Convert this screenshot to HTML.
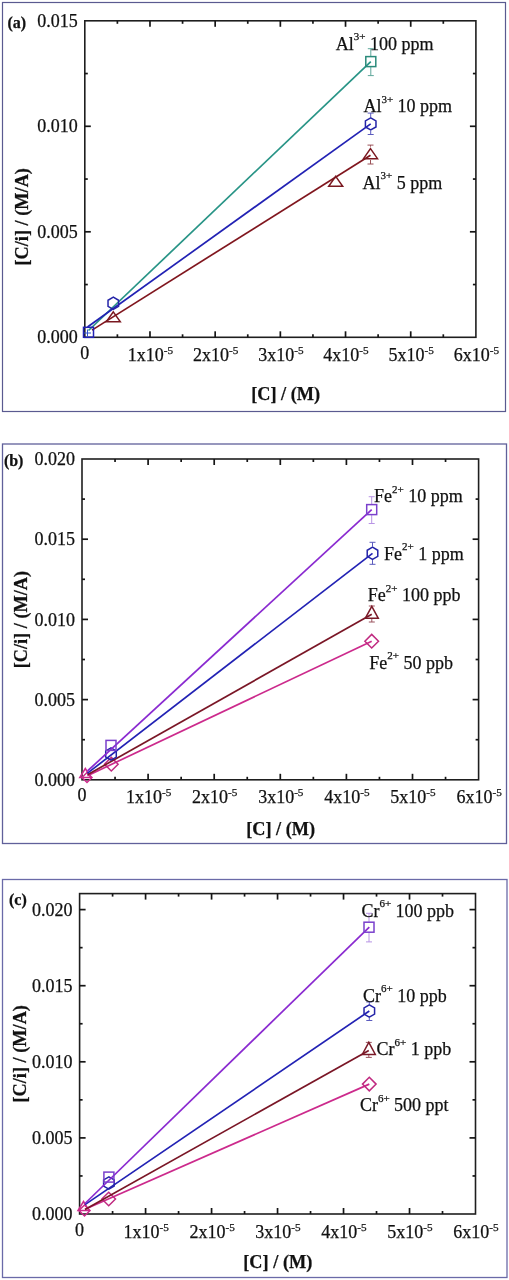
<!DOCTYPE html><html><head><meta charset="utf-8"><style>html,body{margin:0;padding:0;background:#fff;}svg{display:block;will-change:transform}text{font-family:"Liberation Serif", serif;fill:#111;stroke:#111;stroke-width:0.25px}</style></head><body>
<svg width="509" height="1280" viewBox="0 0 509 1280">
<rect x="2.5" y="2.5" width="503.0" height="409.0" fill="none" stroke="#5a5a90" stroke-width="1.2"/>
<rect x="84.8" y="20.8" width="391.09999999999997" height="316.5" fill="none" stroke="#1e1e1e" stroke-width="1.6"/>
<line x1="117.39" y1="337.3" x2="117.39" y2="334.3" stroke="#151515" stroke-width="1.7"/>
<line x1="117.39" y1="20.8" x2="117.39" y2="23.8" stroke="#151515" stroke-width="1.7"/>
<line x1="149.98" y1="337.3" x2="149.98" y2="331.3" stroke="#151515" stroke-width="1.7"/>
<line x1="149.98" y1="20.8" x2="149.98" y2="26.8" stroke="#151515" stroke-width="1.7"/>
<line x1="182.57" y1="337.3" x2="182.57" y2="334.3" stroke="#151515" stroke-width="1.7"/>
<line x1="182.57" y1="20.8" x2="182.57" y2="23.8" stroke="#151515" stroke-width="1.7"/>
<line x1="215.17" y1="337.3" x2="215.17" y2="331.3" stroke="#151515" stroke-width="1.7"/>
<line x1="215.17" y1="20.8" x2="215.17" y2="26.8" stroke="#151515" stroke-width="1.7"/>
<line x1="247.76" y1="337.3" x2="247.76" y2="334.3" stroke="#151515" stroke-width="1.7"/>
<line x1="247.76" y1="20.8" x2="247.76" y2="23.8" stroke="#151515" stroke-width="1.7"/>
<line x1="280.35" y1="337.3" x2="280.35" y2="331.3" stroke="#151515" stroke-width="1.7"/>
<line x1="280.35" y1="20.8" x2="280.35" y2="26.8" stroke="#151515" stroke-width="1.7"/>
<line x1="312.94" y1="337.3" x2="312.94" y2="334.3" stroke="#151515" stroke-width="1.7"/>
<line x1="312.94" y1="20.8" x2="312.94" y2="23.8" stroke="#151515" stroke-width="1.7"/>
<line x1="345.53" y1="337.3" x2="345.53" y2="331.3" stroke="#151515" stroke-width="1.7"/>
<line x1="345.53" y1="20.8" x2="345.53" y2="26.8" stroke="#151515" stroke-width="1.7"/>
<line x1="378.12" y1="337.3" x2="378.12" y2="334.3" stroke="#151515" stroke-width="1.7"/>
<line x1="378.12" y1="20.8" x2="378.12" y2="23.8" stroke="#151515" stroke-width="1.7"/>
<line x1="410.72" y1="337.3" x2="410.72" y2="331.3" stroke="#151515" stroke-width="1.7"/>
<line x1="410.72" y1="20.8" x2="410.72" y2="26.8" stroke="#151515" stroke-width="1.7"/>
<line x1="443.31" y1="337.3" x2="443.31" y2="334.3" stroke="#151515" stroke-width="1.7"/>
<line x1="443.31" y1="20.8" x2="443.31" y2="23.8" stroke="#151515" stroke-width="1.7"/>
<line x1="84.8" y1="284.55" x2="87.8" y2="284.55" stroke="#151515" stroke-width="1.7"/>
<line x1="475.9" y1="284.55" x2="472.9" y2="284.55" stroke="#151515" stroke-width="1.7"/>
<line x1="84.8" y1="231.80" x2="90.8" y2="231.80" stroke="#151515" stroke-width="1.7"/>
<line x1="475.9" y1="231.80" x2="469.9" y2="231.80" stroke="#151515" stroke-width="1.7"/>
<line x1="84.8" y1="179.05" x2="87.8" y2="179.05" stroke="#151515" stroke-width="1.7"/>
<line x1="475.9" y1="179.05" x2="472.9" y2="179.05" stroke="#151515" stroke-width="1.7"/>
<line x1="84.8" y1="126.30" x2="90.8" y2="126.30" stroke="#151515" stroke-width="1.7"/>
<line x1="475.9" y1="126.30" x2="469.9" y2="126.30" stroke="#151515" stroke-width="1.7"/>
<line x1="84.8" y1="73.55" x2="87.8" y2="73.55" stroke="#151515" stroke-width="1.7"/>
<line x1="475.9" y1="73.55" x2="472.9" y2="73.55" stroke="#151515" stroke-width="1.7"/>
<text x="77.8" y="343.4" text-anchor="end" font-size="18">0.000</text>
<text x="77.8" y="237.9" text-anchor="end" font-size="18">0.005</text>
<text x="77.8" y="132.4" text-anchor="end" font-size="18">0.010</text>
<text x="77.8" y="26.9" text-anchor="end" font-size="18">0.015</text>
<text x="84.8" y="358.5" text-anchor="middle" font-size="18">0</text>
<text x="150.5" y="360.8" text-anchor="middle" font-size="18">1x10<tspan font-size="11.2" dy="-7">-5</tspan></text>
<text x="215.7" y="360.8" text-anchor="middle" font-size="18">2x10<tspan font-size="11.2" dy="-7">-5</tspan></text>
<text x="280.9" y="360.8" text-anchor="middle" font-size="18">3x10<tspan font-size="11.2" dy="-7">-5</tspan></text>
<text x="346.0" y="360.8" text-anchor="middle" font-size="18">4x10<tspan font-size="11.2" dy="-7">-5</tspan></text>
<text x="411.2" y="360.8" text-anchor="middle" font-size="18">5x10<tspan font-size="11.2" dy="-7">-5</tspan></text>
<text x="476.4" y="360.8" text-anchor="middle" font-size="18">6x10<tspan font-size="11.2" dy="-7">-5</tspan></text>
<text x="285.7" y="400" text-anchor="middle" font-size="18.3" font-weight="bold">[C] / (M)</text>
<text transform="translate(28.3,216.8) rotate(-90)" text-anchor="middle" font-size="18.3" font-weight="bold">[C/i] / (M/A)</text>
<text x="7.5" y="27.8" font-size="16" font-weight="bold">(a)</text>
<polyline points="88.5,330.5 370.8,61.6" fill="none" stroke="#289486" stroke-width="1.7" stroke-linejoin="round"/>
<g stroke="#2a8a7a" stroke-width="1" opacity="0.75"><line x1="370.8" y1="48.70" x2="370.8" y2="56.10"/><line x1="367.8" y1="48.70" x2="373.8" y2="48.70"/></g>
<g stroke="#2a8a7a" stroke-width="1" opacity="0.75"><line x1="370.8" y1="75.60" x2="370.8" y2="67.10"/><line x1="367.8" y1="75.60" x2="373.8" y2="75.60"/></g>
<rect x="365.80" y="56.60" width="10" height="10" fill="none" stroke="#2a8a7a" stroke-width="1.5"/>
<text x="335.7" y="49.5" font-size="18">Al<tspan font-size="11" dy="-9.5">3+</tspan><tspan dy="9.5"> 100 ppm</tspan></text>
<polyline points="92,330.1 370.5,155.3" fill="none" stroke="#80161e" stroke-width="1.7" stroke-linejoin="round"/>
<polygon points="113.3,311.83 120.30,321.83 106.30,321.83" fill="none" stroke="#7a1820" stroke-width="1.5"/>
<polygon points="335.7,176.33 342.70,186.33 328.70,186.33" fill="none" stroke="#7a1820" stroke-width="1.5"/>
<g stroke="#7a1820" stroke-width="1" opacity="0.75"><line x1="370.5" y1="145.10" x2="370.5" y2="146.70"/><line x1="367.5" y1="145.10" x2="373.5" y2="145.10"/></g>
<g stroke="#7a1820" stroke-width="1" opacity="0.75"><line x1="370.5" y1="164.00" x2="370.5" y2="159.90"/><line x1="367.5" y1="164.00" x2="373.5" y2="164.00"/></g>
<polygon points="370.5,148.63 377.50,158.63 363.50,158.63" fill="none" stroke="#7a1820" stroke-width="1.5"/>
<text x="362.5" y="188.8" font-size="18">Al<tspan font-size="11" dy="-9.5">3+</tspan><tspan dy="9.5"> 5 ppm</tspan></text>
<polyline points="87.5,327 370.7,123.9" fill="none" stroke="#2222b4" stroke-width="1.7" stroke-linejoin="round"/>
<polygon points="113.30,297.20 108.02,300.25 108.02,306.35 113.30,309.40 118.58,306.35 118.58,300.25" fill="none" stroke="#2424a8" stroke-width="1.5"/>
<g stroke="#2424a8" stroke-width="1" opacity="0.75"><line x1="370.7" y1="113.10" x2="370.7" y2="117.10"/><line x1="367.7" y1="113.10" x2="373.7" y2="113.10"/></g>
<g stroke="#2424a8" stroke-width="1" opacity="0.75"><line x1="370.7" y1="134.50" x2="370.7" y2="130.70"/><line x1="367.7" y1="134.50" x2="373.7" y2="134.50"/></g>
<polygon points="370.70,117.80 365.42,120.85 365.42,126.95 370.70,130.00 375.98,126.95 375.98,120.85" fill="none" stroke="#2424a8" stroke-width="1.5"/>
<rect x="83.50" y="327.30" width="10" height="10" fill="none" stroke="#2222b4" stroke-width="1.5"/>
<path d="M84.0,333H91.0M87.5,329.5V336.5" stroke="#3050d0" stroke-width="1" fill="none"/>
<text x="363.4" y="112.4" font-size="18">Al<tspan font-size="11" dy="-9.5">3+</tspan><tspan dy="9.5"> 10 ppm</tspan></text>
<rect x="2.5" y="444" width="504.0" height="399.5" fill="none" stroke="#60609a" stroke-width="1.3"/>
<rect x="82" y="459" width="396.6" height="320.79999999999995" fill="none" stroke="#1e1e1e" stroke-width="1.6"/>
<line x1="115.05" y1="779.8" x2="115.05" y2="776.8" stroke="#151515" stroke-width="1.7"/>
<line x1="115.05" y1="459" x2="115.05" y2="462" stroke="#151515" stroke-width="1.7"/>
<line x1="148.10" y1="779.8" x2="148.10" y2="773.8" stroke="#151515" stroke-width="1.7"/>
<line x1="148.10" y1="459" x2="148.10" y2="465" stroke="#151515" stroke-width="1.7"/>
<line x1="181.15" y1="779.8" x2="181.15" y2="776.8" stroke="#151515" stroke-width="1.7"/>
<line x1="181.15" y1="459" x2="181.15" y2="462" stroke="#151515" stroke-width="1.7"/>
<line x1="214.20" y1="779.8" x2="214.20" y2="773.8" stroke="#151515" stroke-width="1.7"/>
<line x1="214.20" y1="459" x2="214.20" y2="465" stroke="#151515" stroke-width="1.7"/>
<line x1="247.25" y1="779.8" x2="247.25" y2="776.8" stroke="#151515" stroke-width="1.7"/>
<line x1="247.25" y1="459" x2="247.25" y2="462" stroke="#151515" stroke-width="1.7"/>
<line x1="280.30" y1="779.8" x2="280.30" y2="773.8" stroke="#151515" stroke-width="1.7"/>
<line x1="280.30" y1="459" x2="280.30" y2="465" stroke="#151515" stroke-width="1.7"/>
<line x1="313.35" y1="779.8" x2="313.35" y2="776.8" stroke="#151515" stroke-width="1.7"/>
<line x1="313.35" y1="459" x2="313.35" y2="462" stroke="#151515" stroke-width="1.7"/>
<line x1="346.40" y1="779.8" x2="346.40" y2="773.8" stroke="#151515" stroke-width="1.7"/>
<line x1="346.40" y1="459" x2="346.40" y2="465" stroke="#151515" stroke-width="1.7"/>
<line x1="379.45" y1="779.8" x2="379.45" y2="776.8" stroke="#151515" stroke-width="1.7"/>
<line x1="379.45" y1="459" x2="379.45" y2="462" stroke="#151515" stroke-width="1.7"/>
<line x1="412.50" y1="779.8" x2="412.50" y2="773.8" stroke="#151515" stroke-width="1.7"/>
<line x1="412.50" y1="459" x2="412.50" y2="465" stroke="#151515" stroke-width="1.7"/>
<line x1="445.55" y1="779.8" x2="445.55" y2="776.8" stroke="#151515" stroke-width="1.7"/>
<line x1="445.55" y1="459" x2="445.55" y2="462" stroke="#151515" stroke-width="1.7"/>
<line x1="82" y1="739.70" x2="85" y2="739.70" stroke="#151515" stroke-width="1.7"/>
<line x1="478.6" y1="739.70" x2="475.6" y2="739.70" stroke="#151515" stroke-width="1.7"/>
<line x1="82" y1="699.60" x2="88" y2="699.60" stroke="#151515" stroke-width="1.7"/>
<line x1="478.6" y1="699.60" x2="472.6" y2="699.60" stroke="#151515" stroke-width="1.7"/>
<line x1="82" y1="659.50" x2="85" y2="659.50" stroke="#151515" stroke-width="1.7"/>
<line x1="478.6" y1="659.50" x2="475.6" y2="659.50" stroke="#151515" stroke-width="1.7"/>
<line x1="82" y1="619.40" x2="88" y2="619.40" stroke="#151515" stroke-width="1.7"/>
<line x1="478.6" y1="619.40" x2="472.6" y2="619.40" stroke="#151515" stroke-width="1.7"/>
<line x1="82" y1="579.30" x2="85" y2="579.30" stroke="#151515" stroke-width="1.7"/>
<line x1="478.6" y1="579.30" x2="475.6" y2="579.30" stroke="#151515" stroke-width="1.7"/>
<line x1="82" y1="539.20" x2="88" y2="539.20" stroke="#151515" stroke-width="1.7"/>
<line x1="478.6" y1="539.20" x2="472.6" y2="539.20" stroke="#151515" stroke-width="1.7"/>
<line x1="82" y1="499.10" x2="85" y2="499.10" stroke="#151515" stroke-width="1.7"/>
<line x1="478.6" y1="499.10" x2="475.6" y2="499.10" stroke="#151515" stroke-width="1.7"/>
<text x="75.0" y="785.9" text-anchor="end" font-size="18">0.000</text>
<text x="75.0" y="705.7" text-anchor="end" font-size="18">0.005</text>
<text x="75.0" y="625.5" text-anchor="end" font-size="18">0.010</text>
<text x="75.0" y="545.3" text-anchor="end" font-size="18">0.015</text>
<text x="75.0" y="465.1" text-anchor="end" font-size="18">0.020</text>
<text x="82.0" y="801.0" text-anchor="middle" font-size="18">0</text>
<text x="148.6" y="803.3" text-anchor="middle" font-size="18">1x10<tspan font-size="11.2" dy="-7">-5</tspan></text>
<text x="214.7" y="803.3" text-anchor="middle" font-size="18">2x10<tspan font-size="11.2" dy="-7">-5</tspan></text>
<text x="280.8" y="803.3" text-anchor="middle" font-size="18">3x10<tspan font-size="11.2" dy="-7">-5</tspan></text>
<text x="346.9" y="803.3" text-anchor="middle" font-size="18">4x10<tspan font-size="11.2" dy="-7">-5</tspan></text>
<text x="413.0" y="803.3" text-anchor="middle" font-size="18">5x10<tspan font-size="11.2" dy="-7">-5</tspan></text>
<text x="479.1" y="803.3" text-anchor="middle" font-size="18">6x10<tspan font-size="11.2" dy="-7">-5</tspan></text>
<text x="280.7" y="835" text-anchor="middle" font-size="18.3" font-weight="bold">[C] / (M)</text>
<text transform="translate(27.3,619.6) rotate(-90)" text-anchor="middle" font-size="18.3" font-weight="bold">[C/i] / (M/A)</text>
<text x="3.9" y="465.6" font-size="16" font-weight="bold">(b)</text>
<polyline points="87.5,775.7 371.7,641.2" fill="none" stroke="#cc2a8c" stroke-width="1.7" stroke-linejoin="round"/>
<polygon points="111.3,757.40 118.10,764.2 111.3,771.00 104.50,764.2" fill="none" stroke="#c02a80" stroke-width="1.5"/>
<polygon points="371.7,634.40 378.50,641.2 371.7,648.00 364.90,641.2" fill="none" stroke="#c02a80" stroke-width="1.5"/>
<polygon points="85.3,768.50 90.80,777.50 79.80,777.50" fill="none" stroke="#cc2a8c" stroke-width="1.5"/>
<polygon points="87,772.50 92.00,777.5 87,782.50 82.00,777.5" fill="none" stroke="#cc2a8c" stroke-width="1.5"/>
<text x="369.3" y="668.6" font-size="18">Fe<tspan font-size="11" dy="-9.5">2+</tspan><tspan dy="9.5"> 50 ppb</tspan></text>
<polyline points="87.5,774.8 371.8,614.3" fill="none" stroke="#7a1626" stroke-width="1.7" stroke-linejoin="round"/>
<g stroke="#7a1a28" stroke-width="1" opacity="0.75"><line x1="371.8" y1="606.00" x2="371.8" y2="605.70"/><line x1="368.8" y1="606.00" x2="374.8" y2="606.00"/></g>
<g stroke="#7a1a28" stroke-width="1" opacity="0.75"><line x1="371.8" y1="622.00" x2="371.8" y2="618.90"/><line x1="368.8" y1="622.00" x2="374.8" y2="622.00"/></g>
<polygon points="371.8,606.30 378.30,618.30 365.30,618.30" fill="none" stroke="#7a1a28" stroke-width="1.5"/>
<text x="367.7" y="601.4" font-size="18">Fe<tspan font-size="11" dy="-9.5">2+</tspan><tspan dy="9.5"> 100 ppb</tspan></text>
<polyline points="87.5,773.2 372.5,553.3" fill="none" stroke="#2222b4" stroke-width="1.7" stroke-linejoin="round"/>
<polygon points="111.00,747.90 105.72,750.95 105.72,757.05 111.00,760.10 116.28,757.05 116.28,750.95" fill="none" stroke="#2424a8" stroke-width="1.5"/>
<g stroke="#2424a8" stroke-width="1" opacity="0.75"><line x1="372.5" y1="542.30" x2="372.5" y2="546.50"/><line x1="369.5" y1="542.30" x2="375.5" y2="542.30"/></g>
<g stroke="#2424a8" stroke-width="1" opacity="0.75"><line x1="372.5" y1="564.30" x2="372.5" y2="560.10"/><line x1="369.5" y1="564.30" x2="375.5" y2="564.30"/></g>
<polygon points="372.50,547.20 367.22,550.25 367.22,556.35 372.50,559.40 377.78,556.35 377.78,550.25" fill="none" stroke="#2424a8" stroke-width="1.5"/>
<text x="384" y="559.6" font-size="18">Fe<tspan font-size="11" dy="-9.5">2+</tspan><tspan dy="9.5"> 1 ppm</tspan></text>
<polyline points="87.5,771 371.7,509.6" fill="none" stroke="#8a2ad0" stroke-width="1.7" stroke-linejoin="round"/>
<rect x="106.00" y="740.40" width="10" height="10" fill="none" stroke="#7a40cc" stroke-width="1.5"/>
<g stroke="#a070dc" stroke-width="1" opacity="0.75"><line x1="371.7" y1="496.70" x2="371.7" y2="504.10"/><line x1="368.7" y1="496.70" x2="374.7" y2="496.70"/></g>
<g stroke="#a070dc" stroke-width="1" opacity="0.75"><line x1="371.7" y1="523.50" x2="371.7" y2="515.10"/><line x1="368.7" y1="523.50" x2="374.7" y2="523.50"/></g>
<rect x="366.70" y="504.60" width="10" height="10" fill="none" stroke="#7a40cc" stroke-width="1.5"/>
<text x="374" y="502" font-size="18">Fe<tspan font-size="11" dy="-9.5">2+</tspan><tspan dy="9.5"> 10 ppm</tspan></text>
<rect x="2.5" y="879.5" width="504.5" height="398.0" fill="none" stroke="#6a6aa8" stroke-width="1.3"/>
<rect x="79.6" y="893.6" width="395.9" height="320.4" fill="none" stroke="#1e1e1e" stroke-width="1.6"/>
<line x1="112.59" y1="1214" x2="112.59" y2="1211" stroke="#151515" stroke-width="1.7"/>
<line x1="112.59" y1="893.6" x2="112.59" y2="896.6" stroke="#151515" stroke-width="1.7"/>
<line x1="145.58" y1="1214" x2="145.58" y2="1208" stroke="#151515" stroke-width="1.7"/>
<line x1="145.58" y1="893.6" x2="145.58" y2="899.6" stroke="#151515" stroke-width="1.7"/>
<line x1="178.57" y1="1214" x2="178.57" y2="1211" stroke="#151515" stroke-width="1.7"/>
<line x1="178.57" y1="893.6" x2="178.57" y2="896.6" stroke="#151515" stroke-width="1.7"/>
<line x1="211.57" y1="1214" x2="211.57" y2="1208" stroke="#151515" stroke-width="1.7"/>
<line x1="211.57" y1="893.6" x2="211.57" y2="899.6" stroke="#151515" stroke-width="1.7"/>
<line x1="244.56" y1="1214" x2="244.56" y2="1211" stroke="#151515" stroke-width="1.7"/>
<line x1="244.56" y1="893.6" x2="244.56" y2="896.6" stroke="#151515" stroke-width="1.7"/>
<line x1="277.55" y1="1214" x2="277.55" y2="1208" stroke="#151515" stroke-width="1.7"/>
<line x1="277.55" y1="893.6" x2="277.55" y2="899.6" stroke="#151515" stroke-width="1.7"/>
<line x1="310.54" y1="1214" x2="310.54" y2="1211" stroke="#151515" stroke-width="1.7"/>
<line x1="310.54" y1="893.6" x2="310.54" y2="896.6" stroke="#151515" stroke-width="1.7"/>
<line x1="343.53" y1="1214" x2="343.53" y2="1208" stroke="#151515" stroke-width="1.7"/>
<line x1="343.53" y1="893.6" x2="343.53" y2="899.6" stroke="#151515" stroke-width="1.7"/>
<line x1="376.52" y1="1214" x2="376.52" y2="1211" stroke="#151515" stroke-width="1.7"/>
<line x1="376.52" y1="893.6" x2="376.52" y2="896.6" stroke="#151515" stroke-width="1.7"/>
<line x1="409.52" y1="1214" x2="409.52" y2="1208" stroke="#151515" stroke-width="1.7"/>
<line x1="409.52" y1="893.6" x2="409.52" y2="899.6" stroke="#151515" stroke-width="1.7"/>
<line x1="442.51" y1="1214" x2="442.51" y2="1211" stroke="#151515" stroke-width="1.7"/>
<line x1="442.51" y1="893.6" x2="442.51" y2="896.6" stroke="#151515" stroke-width="1.7"/>
<line x1="79.6" y1="1175.95" x2="82.6" y2="1175.95" stroke="#151515" stroke-width="1.7"/>
<line x1="475.5" y1="1175.95" x2="472.5" y2="1175.95" stroke="#151515" stroke-width="1.7"/>
<line x1="79.6" y1="1137.90" x2="85.6" y2="1137.90" stroke="#151515" stroke-width="1.7"/>
<line x1="475.5" y1="1137.90" x2="469.5" y2="1137.90" stroke="#151515" stroke-width="1.7"/>
<line x1="79.6" y1="1099.85" x2="82.6" y2="1099.85" stroke="#151515" stroke-width="1.7"/>
<line x1="475.5" y1="1099.85" x2="472.5" y2="1099.85" stroke="#151515" stroke-width="1.7"/>
<line x1="79.6" y1="1061.80" x2="85.6" y2="1061.80" stroke="#151515" stroke-width="1.7"/>
<line x1="475.5" y1="1061.80" x2="469.5" y2="1061.80" stroke="#151515" stroke-width="1.7"/>
<line x1="79.6" y1="1023.75" x2="82.6" y2="1023.75" stroke="#151515" stroke-width="1.7"/>
<line x1="475.5" y1="1023.75" x2="472.5" y2="1023.75" stroke="#151515" stroke-width="1.7"/>
<line x1="79.6" y1="985.70" x2="85.6" y2="985.70" stroke="#151515" stroke-width="1.7"/>
<line x1="475.5" y1="985.70" x2="469.5" y2="985.70" stroke="#151515" stroke-width="1.7"/>
<line x1="79.6" y1="947.65" x2="82.6" y2="947.65" stroke="#151515" stroke-width="1.7"/>
<line x1="475.5" y1="947.65" x2="472.5" y2="947.65" stroke="#151515" stroke-width="1.7"/>
<line x1="79.6" y1="909.60" x2="85.6" y2="909.60" stroke="#151515" stroke-width="1.7"/>
<line x1="475.5" y1="909.60" x2="469.5" y2="909.60" stroke="#151515" stroke-width="1.7"/>
<text x="72.6" y="1220.1" text-anchor="end" font-size="18">0.000</text>
<text x="72.6" y="1144.0" text-anchor="end" font-size="18">0.005</text>
<text x="72.6" y="1067.9" text-anchor="end" font-size="18">0.010</text>
<text x="72.6" y="991.8" text-anchor="end" font-size="18">0.015</text>
<text x="72.6" y="915.7" text-anchor="end" font-size="18">0.020</text>
<text x="79.6" y="1235.7" text-anchor="middle" font-size="18">0</text>
<text x="146.1" y="1238.0" text-anchor="middle" font-size="18">1x10<tspan font-size="11.2" dy="-7">-5</tspan></text>
<text x="212.1" y="1238.0" text-anchor="middle" font-size="18">2x10<tspan font-size="11.2" dy="-7">-5</tspan></text>
<text x="278.0" y="1238.0" text-anchor="middle" font-size="18">3x10<tspan font-size="11.2" dy="-7">-5</tspan></text>
<text x="344.0" y="1238.0" text-anchor="middle" font-size="18">4x10<tspan font-size="11.2" dy="-7">-5</tspan></text>
<text x="410.0" y="1238.0" text-anchor="middle" font-size="18">5x10<tspan font-size="11.2" dy="-7">-5</tspan></text>
<text x="476.0" y="1238.0" text-anchor="middle" font-size="18">6x10<tspan font-size="11.2" dy="-7">-5</tspan></text>
<text x="277.8" y="1268" text-anchor="middle" font-size="18.3" font-weight="bold">[C] / (M)</text>
<text transform="translate(25.8,1053.8) rotate(-90)" text-anchor="middle" font-size="18.3" font-weight="bold">[C/i] / (M/A)</text>
<text x="9" y="905.2" font-size="16" font-weight="bold">(c)</text>
<polyline points="85,1209.3 369.3,1084.1" fill="none" stroke="#cc2a8c" stroke-width="1.7" stroke-linejoin="round"/>
<polygon points="108.7,1192.20 115.50,1199 108.7,1205.80 101.90,1199" fill="none" stroke="#c02a80" stroke-width="1.5"/>
<polygon points="369.3,1077.30 376.10,1084.1 369.3,1090.90 362.50,1084.1" fill="none" stroke="#c02a80" stroke-width="1.5"/>
<polygon points="83.5,1201.50 89.00,1210.50 78.00,1210.50" fill="none" stroke="#cc2a8c" stroke-width="1.5"/>
<polygon points="84.5,1205.00 90.00,1210.5 84.5,1216.00 79.00,1210.5" fill="none" stroke="#cc2a8c" stroke-width="1.5"/>
<text x="359.9" y="1111" font-size="18">Cr<tspan font-size="11" dy="-9.5">6+</tspan><tspan dy="9.5"> 500 ppt</tspan></text>
<polyline points="85,1209.5 368.8,1050.4" fill="none" stroke="#7a1626" stroke-width="1.7" stroke-linejoin="round"/>
<g stroke="#7a1a28" stroke-width="1" opacity="0.75"><line x1="368.8" y1="1042.40" x2="368.8" y2="1041.80"/><line x1="365.8" y1="1042.40" x2="371.8" y2="1042.40"/></g>
<g stroke="#7a1a28" stroke-width="1" opacity="0.75"><line x1="368.8" y1="1057.40" x2="368.8" y2="1055.00"/><line x1="365.8" y1="1057.40" x2="371.8" y2="1057.40"/></g>
<polygon points="368.8,1042.40 375.30,1054.40 362.30,1054.40" fill="none" stroke="#7a1a28" stroke-width="1.5"/>
<text x="376.5" y="1055" font-size="18">Cr<tspan font-size="11" dy="-9.5">6+</tspan><tspan dy="9.5"> 1 ppb</tspan></text>
<polyline points="85,1204.6 369.3,1011" fill="none" stroke="#2222b4" stroke-width="1.7" stroke-linejoin="round"/>
<polygon points="108.90,1176.90 103.62,1179.95 103.62,1186.05 108.90,1189.10 114.18,1186.05 114.18,1179.95" fill="none" stroke="#2424a8" stroke-width="1.5"/>
<g stroke="#2424a8" stroke-width="1" opacity="0.75"><line x1="369.3" y1="1002.00" x2="369.3" y2="1004.20"/><line x1="366.3" y1="1002.00" x2="372.3" y2="1002.00"/></g>
<g stroke="#2424a8" stroke-width="1" opacity="0.75"><line x1="369.3" y1="1020.50" x2="369.3" y2="1017.80"/><line x1="366.3" y1="1020.50" x2="372.3" y2="1020.50"/></g>
<polygon points="369.30,1004.90 364.02,1007.95 364.02,1014.05 369.30,1017.10 374.58,1014.05 374.58,1007.95" fill="none" stroke="#2424a8" stroke-width="1.5"/>
<text x="363" y="1001.6" font-size="18">Cr<tspan font-size="11" dy="-9.5">6+</tspan><tspan dy="9.5"> 10 ppb</tspan></text>
<polyline points="85,1203.5 369.3,927.1" fill="none" stroke="#8a2ad0" stroke-width="1.7" stroke-linejoin="round"/>
<rect x="103.90" y="1172.10" width="10" height="10" fill="none" stroke="#7a40cc" stroke-width="1.5"/>
<g stroke="#a070dc" stroke-width="1" opacity="0.75"><line x1="369" y1="913.30" x2="369" y2="921.70"/><line x1="366" y1="913.30" x2="372" y2="913.30"/></g>
<g stroke="#a070dc" stroke-width="1" opacity="0.75"><line x1="369" y1="941.90" x2="369" y2="932.70"/><line x1="366" y1="941.90" x2="372" y2="941.90"/></g>
<rect x="364.00" y="922.20" width="10" height="10" fill="none" stroke="#7a40cc" stroke-width="1.5"/>
<text x="361.4" y="916.7" font-size="18">Cr<tspan font-size="11" dy="-9.5">6+</tspan><tspan dy="9.5"> 100 ppb</tspan></text>
</svg></body></html>
